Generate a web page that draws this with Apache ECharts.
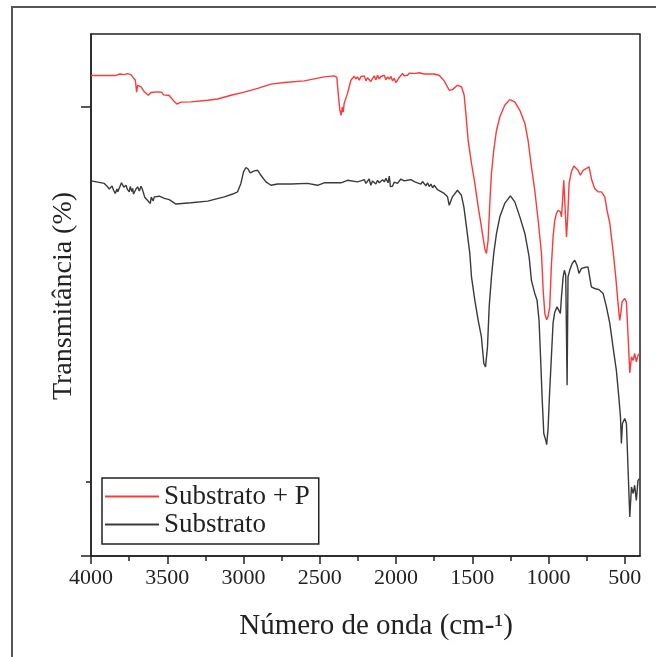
<!DOCTYPE html>
<html>
<head>
<meta charset="utf-8">
<script src="https://cdn.jsdelivr.net/npm/echarts@6/dist/echarts.min.js"></script>
<style>
html,body{margin:0;padding:0;background:#fff;}
#chart{width:656px;height:657px;}
</style>
</head>
<body>
<div id="chart"></div>
<script>
// Wavenumbers (cm-1) and transmittance (arbitrary %, axis unlabeled)
const redName = 'Substrato + P';
const blackName = 'Substrato';

const redWn = [4000,3836,3810,3782,3760,3738,3727,3709,3701,3694,3672,3650,3624,3607,3563,3537,3524,3487,3458,3436,3410,3345,3235,3170,3082,2995,2907,2820,2733,2602,2471,2405,2388,2379,2368,2360,2352,2346,2340,2318,2296,2274,2263,2252,2241,2230,2219,2208,2197,2187,2176,2165,2154,2143,2132,2121,2110,2099,2088,2077,2066,2055,2044,2033,2023,2012,2001,1990,1979,1968,1957,1946,1935,1924,1913,1902,1892,1870,1848,1815,1750,1717,1684,1651,1630,1597,1570,1553,1542,1527,1505,1483,1461,1440,1418,1407,1396,1385,1374,1359,1341,1319,1287,1254,1221,1188,1155,1134,1112,1090,1068,1046,1035,1024,1012,1003,992,981,970,959,948,937,922,915,909,900,891,882,874,865,850,834,821,806,791,773,751,734,725,716,697,675,653,631,616,598,577,559,544,533,526,518,500,489,478,467,456,445,435,424,413,402];
const redT = [85.07,85.07,85.3,85.2,85.35,85.2,84.85,84.3,82.4,83.5,83.25,82.45,81.9,82.35,82.45,82.4,81.97,81.87,81.0,80.5,80.8,80.85,81.1,81.3,81.9,82.4,83.0,83.68,83.95,84.2,84.85,85.0,84.75,82.2,79.5,78.7,80.0,79.2,80.6,82.2,84.3,84.95,84.5,84.85,84.3,84.9,84.6,85.0,84.2,84.7,84.96,84.1,84.3,85.0,84.4,85.1,84.5,84.9,84.6,85.1,84.4,84.85,84.5,84.9,84.2,84.6,83.95,84.3,84.75,84.9,85.4,85.0,85.3,85.1,85.45,85.2,85.4,85.4,85.5,85.3,85.3,85.1,84.2,82.7,82.8,83.5,83.25,81.9,79.0,74.7,71.0,67.8,64.05,60.85,57.4,56.6,58.7,64.6,69.4,73.1,76.3,78.45,80.3,81.2,80.85,79.5,77.4,74.7,70.45,66.7,61.9,56.6,50.7,47.0,46.0,46.5,48.05,54.7,59.2,61.9,63.0,63.5,63.25,62.45,64.6,68.3,68.6,59.25,62.45,67.8,69.65,70.6,70.9,69.9,69.1,69.9,70.2,70.45,70.2,68.3,67.0,66.45,66.45,65.65,63.5,61.4,57.1,52.85,48.6,45.9,47.0,48.85,49.4,48.85,43.25,37.5,40.05,39.5,40.6,39.25,40.3,40.6];

const blackWn = [4000,3956,3913,3891,3880,3869,3862,3858,3852,3847,3841,3836,3830,3825,3810,3800,3792,3785,3771,3760,3749,3743,3738,3732,3727,3721,3716,3705,3694,3683,3672,3664,3655,3648,3640,3633,3629,3620,3611,3605,3600,3592,3585,3552,3519,3487,3465,3443,3345,3235,3126,3071,3039,3017,3000,2984,2970,2956,2929,2907,2886,2853,2820,2776,2689,2580,2514,2471,2361,2318,2252,2230,2208,2197,2187,2176,2165,2154,2143,2132,2121,2110,2100,2088,2077,2066,2060,2052,2044,2037,2030,2023,2012,2001,1990,1980,1968,1957,1946,1935,1924,1913,1902,1880,1870,1859,1848,1837,1826,1815,1804,1793,1782,1771,1760,1750,1739,1728,1717,1684,1662,1651,1630,1597,1592,1571,1555,1538,1516,1505,1483,1461,1440,1424,1413,1400,1389,1374,1359,1341,1319,1287,1250,1221,1188,1155,1127,1112,1090,1075,1062,1053,1042,1031,1018,1012,1003,992,981,970,959,944,931,922,915,904,896,887,878,872,861,845,828,813,800,784,762,741,730,719,697,668,642,620,598,577,555,539,528,522,515,500,489,478,467,456,445,435,424,413,402];
const blackT = [68.2,68.0,67.8,67.25,66.9,66.6,67.4,67.3,66.7,67.0,66.2,66.3,66.9,66.45,67.3,67.9,67.8,67.2,67.5,66.8,66.45,67.3,67.2,66.5,67.0,66.1,66.2,66.9,67.25,66.6,67.35,66.9,66.2,65.6,65.9,65.2,65.4,64.9,64.6,65.6,65.5,65.0,65.65,65.75,65.4,65.2,64.85,64.5,64.7,64.96,65.65,66.1,66.45,67.8,69.65,70.35,70.1,69.5,69.8,69.9,69.1,68.05,67.5,67.7,67.7,67.8,67.5,67.9,67.9,68.3,68.05,68.2,68.4,67.8,67.9,68.5,67.5,68.2,68.5,67.7,68.3,67.9,67.6,68.4,68.05,68.6,68.7,67.9,68.96,67.3,67.6,67.35,68.0,68.3,67.8,68.0,68.5,68.6,68.2,68.5,68.3,68.6,68.4,68.1,68.4,67.9,68.2,67.7,68.1,67.8,67.4,67.9,67.3,67.7,67.1,67.5,67.35,66.8,67.0,66.2,65.65,64.3,65.65,66.7,66.85,65.9,64.05,60.85,56.6,52.85,49.1,45.9,43.25,39.0,38.45,41.65,48.05,52.85,56.6,59.8,62.45,64.6,65.8,64.85,62.45,59.8,56.05,52.3,50.2,49.1,45.9,40.6,33.65,27.8,26.7,26.0,28.5,34.7,40.05,45.5,47.2,48.05,48.3,47.0,49.65,52.85,53.9,53.1,35.5,52.85,53.9,55.0,55.5,54.7,53.4,54.2,54.35,54.45,54.2,51.25,50.99,50.8,50.2,48.05,45.4,41.65,37.9,33.65,30.45,26.2,29.4,30.2,29.4,21.9,14.45,19.25,18.2,19.5,17.1,20.3,20.6];

const xMajorTicks = [500,1000,1500,2000,2500,3000,3500,4000];
const xMinorTicks = [750,1250,1750,2250,2750,3250,3750];
const yMajorTicks = [8.2, 80];
const yMinorTicks = [20];
const xMin = 400, xMax = 4000, yMin = 8.2, yMax = 91.7;

function pairs(xs, ys){ return xs.map((x,i)=>[x, ys[i]]); }

const serif = '"Liberation Serif", "Times New Roman", serif';
const ink = '#222';

const chart = echarts.init(document.getElementById('chart'), null, {renderer:'canvas'});
chart.setOption({
  animation: false,
  backgroundColor: '#fff',
  grid: {left: 91, right: 16, top: 34, bottom: 101, show: true, borderColor: ink, borderWidth: 1.5, backgroundColor: 'transparent'},
  xAxis: [
    {type:'value', inverse:true, min:xMin, max:xMax, position:'bottom',
     axisLine:{show:true, onZero:false, lineStyle:{color:ink, width:1.5}},
     axisTick:{show:true, customValues:xMajorTicks, length:8, lineStyle:{color:ink, width:1.5}},
     axisLabel:{show:true, customValues:xMajorTicks, formatter:(v)=>String(v), fontFamily:serif, fontSize:22, color:ink, margin:11},
     splitLine:{show:false}},
    {type:'value', inverse:true, min:xMin, max:xMax, position:'bottom', offset:0,
     axisLine:{show:false},
     axisTick:{show:true, customValues:xMinorTicks, length:5, lineStyle:{color:ink, width:1.5}},
     axisLabel:{show:false}, splitLine:{show:false}}
  ],
  yAxis: [
    {type:'value', min:yMin, max:yMax, position:'left',
     axisLine:{show:true, onZero:false, lineStyle:{color:ink, width:1.5}},
     axisTick:{show:true, customValues:yMajorTicks, length:10, lineStyle:{color:ink, width:1.5}},
     axisLabel:{show:false}, splitLine:{show:false}},
    {type:'value', min:yMin, max:yMax, position:'left', offset:0,
     axisLine:{show:false},
     axisTick:{show:true, customValues:yMinorTicks, length:5, lineStyle:{color:ink, width:1.5}},
     axisLabel:{show:false}, splitLine:{show:false}}
  ],
  legend: {
    data:[redName, blackName], orient:'vertical', left:102, top:478,
    icon:'rect', itemWidth:54, itemHeight:2, itemGap:1, padding:[5,9,6,3],
    borderColor: ink, borderWidth:1.5, backgroundColor:'#fff',
    textStyle:{fontFamily:serif, fontSize:27, color:ink, lineHeight:26}
  },
  graphic: [
    {type:'rect', silent:true, shape:{x:12, y:7, width:700, height:700}, style:{fill:'none', stroke:'#555', lineWidth:2}},
    {type:'text', x:64, y:296, rotation:Math.PI/2, style:{text:'Transmitância (%)', font:'28px "Liberation Serif"', fill:ink, textAlign:'center', textVerticalAlign:'middle'}},
    {type:'text', x:376, y:626, style:{text:'Número de onda (cm-¹)', font:'29px "Liberation Serif"', fill:ink, textAlign:'center', textVerticalAlign:'middle'}}
  ],
  series: [
    {name:redName, type:'line', xAxisIndex:0, yAxisIndex:0, data:pairs(redWn, redT), showSymbol:false, symbol:'none',
     lineStyle:{color:'#ff3838', width:1.4}, itemStyle:{color:'#ff3838'}},
    {name:blackName, type:'line', xAxisIndex:0, yAxisIndex:0, data:pairs(blackWn, blackT), showSymbol:false, symbol:'none',
     lineStyle:{color:'#3a3a3a', width:1.4}, itemStyle:{color:'#3a3a3a'}}
  ]
});
</script>
</body>
</html>
